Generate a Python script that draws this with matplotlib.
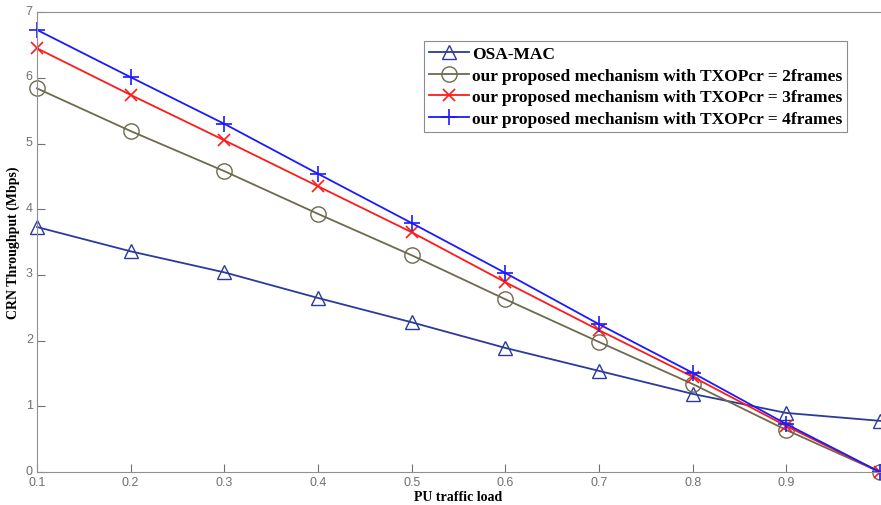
import matplotlib
matplotlib.use("Agg")
import matplotlib.pyplot as plt
import matplotlib.transforms as mtransforms
from matplotlib import font_manager

x = [0.1, 0.2, 0.3, 0.4, 0.5, 0.6, 0.7, 0.8, 0.9, 1.0]
osa_mac = [3.73, 3.36, 3.04, 2.65, 2.28, 1.89, 1.54, 1.19, 0.90, 0.78]
txop2 = [5.84, 5.19, 4.58, 3.93, 3.30, 2.63, 1.98, 1.34, 0.64, 0.0]
txop3 = [6.45, 5.74, 5.05, 4.35, 3.65, 2.89, 2.16, 1.45, 0.70, 0.0]
txop4 = [6.73, 6.01, 5.30, 4.54, 3.79, 3.03, 2.25, 1.51, 0.73, 0.0]
labels = ["OSA-MAC",
          "our proposed mechanism with TXOPcr = 2frames",
          "our proposed mechanism with TXOPcr = 3frames",
          "our proposed mechanism with TXOPcr = 4frames"]
xticks = [0.1, 0.2, 0.3, 0.4, 0.5, 0.6, 0.7, 0.8, 0.9]
xticklabels = ["0.1", "0.2", "0.3", "0.4", "0.5", "0.6", "0.7", "0.8", "0.9"]
yticks = [0, 1, 2, 3, 4, 5, 6, 7]

avail = {f.name for f in font_manager.fontManager.ttflist}
tickfont = "Liberation Sans Narrow" if "Liberation Sans Narrow" in avail else "Liberation Sans"
serif = "Liberation Serif"

fig = plt.figure(figsize=(8.81, 5.06), dpi=100)
ax = fig.add_axes([0.042, 0.065, 0.957, 0.909])

ax.plot(x, osa_mac, color="#2b3a9c", marker="^", markersize=10, markerfacecolor="none",
        markeredgewidth=1.0, linewidth=1.3, label=labels[0], clip_on=False)
ax.plot(x, txop2, color="#6e6a4e", marker="o", markersize=11, markerfacecolor="none",
        markeredgewidth=1.0, linewidth=1.3, label=labels[1], clip_on=False)
ax.plot(x, txop3, color="#ff1a1a", marker="x", markersize=9, markeredgewidth=1.2,
        linewidth=1.3, label=labels[2], clip_on=False)
ax.plot(x, txop4, color="#1a1aff", marker="+", markersize=12, markeredgewidth=1.2,
        linewidth=1.3, label=labels[3], clip_on=False)

ax.set_xlim(0.1, 1.0)
ax.set_ylim(0, 7)
ax.set_xticks(xticks)
ax.set_xticklabels(xticklabels)
ax.set_yticks(yticks)
for s in ax.spines.values():
    s.set_color("#909090")
ax.spines["right"].set_visible(False)
ax.tick_params(direction="in", length=6, colors="#707070", labelsize=9, pad=3)
for lab in ax.get_xticklabels() + ax.get_yticklabels():
    lab.set_fontfamily(tickfont)
shift = mtransforms.ScaledTranslation(0, 3 / 100, fig.dpi_scale_trans)
for lab in ax.get_yticklabels():
    lab.set_transform(lab.get_transform() + shift)

ax.set_xlabel("PU traffic load", fontfamily=serif, fontweight="bold", fontsize=10, labelpad=1)
ax.set_ylabel("CRN Throughput (Mbps)", fontfamily=serif, fontweight="bold", fontsize=10, labelpad=4)

leg = ax.legend(loc="upper right", bbox_to_anchor=(0.961, 0.937),
                prop={"family": serif, "weight": "bold", "size": 12.5},
                frameon=True, fancybox=False, edgecolor="#707070",
                handlelength=2.3, handletextpad=0.15, borderpad=0.3, labelspacing=0.3,
                borderaxespad=0)
leg.get_frame().set_linewidth(0.8)

fig.savefig("out.png", dpi=100)
